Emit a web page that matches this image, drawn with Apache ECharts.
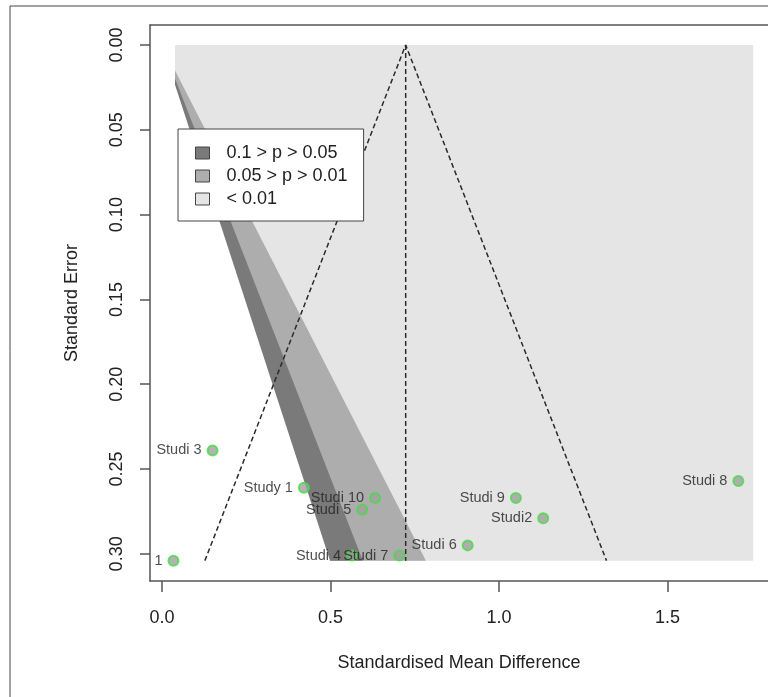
<!DOCTYPE html>
<html>
<head>
<meta charset="utf-8">
<script src="https://cdn.jsdelivr.net/npm/echarts@6/dist/echarts.min.js"></script>
<style>
  html, body { margin: 0; padding: 0; background: #fff; }
  #chart { width: 768px; height: 697px; }
</style>
</head>
<body>
<div id="chart"></div>
<script>
// studies: effect size (SMD), standard error, label
var studyNames = ['1', 'Studi 3', 'Study 1', 'Studi 10', 'Studi 5', 'Studi 4', 'Studi 7', 'Studi 6', 'Studi 9', 'Studi2', 'Studi 8'];
var smd = [0.034, 0.150, 0.421, 0.632, 0.594, 0.564, 0.704, 0.907, 1.050, 1.131, 1.710];
var stdErr = [0.304, 0.239, 0.261, 0.267, 0.274, 0.301, 0.301, 0.295, 0.267, 0.279, 0.257];

var estimate = 0.723;      // pooled estimate (funnel centre)
var seMax = 0.304;         // bottom of the funnel / shaded area
var funnelZ = 1.96;
var shadeXRange = [0.0386, 1.754];   // horizontal extent of the shaded area

var contourNames = ['0.1 > p > 0.05', '0.05 > p > 0.01', '< 0.01'];
var contourZ = [1.645, 1.96, 2.576];
var contourColors = ['#7a7a7a', '#adadad', '#e5e5e5'];

var xTicks = [0, 0.5, 1.0, 1.5];
var yTicks = [0, 0.05, 0.10, 0.15, 0.20, 0.25, 0.30];

var chart = echarts.init(document.getElementById('chart'));
var font = "'Liberation Sans', Arial, Helvetica, sans-serif";
var xMin = -0.0356, xMax = 1.798;

// polygon of the region |x| < z*se, cut at the left of the shaded area
function wedge(z, pad) {
    var xl = shadeXRange[0];
    pad = pad || 0;
    return [[xl - pad, xl / z], [xl, xl / z], [z * seMax, seMax + pad / 10], [xl - pad, seMax + pad / 10]];
}

function polySeries(name, verts, color) {
    return {
        name: name,
        type: 'custom',
        silent: true,
        itemStyle: { color: color },
        data: verts,
        renderItem: function (params, api) {
            if (params.dataIndex > 0) return;
            var pts = verts.map(function (p) { return api.coord(p); });
            return { type: 'polygon', shape: { points: pts }, style: { fill: color } };
        }
    };
}

var rectVerts = [[shadeXRange[0], 0], [shadeXRange[1], 0], [shadeXRange[1], seMax], [shadeXRange[0], seMax]];

var scatterData = smd.map(function (v, i) { return [v, stdErr[i], studyNames[i]]; });

var boxLine = { show: true, onZero: false, lineStyle: { color: '#555', width: 1.5 } };

var option = {
    animation: false,
    textStyle: { fontFamily: font },
    grid: { left: 150, top: 25, right: 0, bottom: 116 },
    legend: {
        orient: 'vertical',
        left: 178, top: 129,
        data: contourNames,
        icon: 'rect',
        itemWidth: 14, itemHeight: 12,
        itemGap: 5,
        selectedMode: false,
        backgroundColor: '#fff',
        borderColor: '#444', borderWidth: 1,
        borderRadius: 0,
        padding: [15, 16, 13, 17],
        itemStyle: { borderColor: '#444', borderWidth: 1 },
        textStyle: { fontSize: 18, color: '#222', fontFamily: font, padding: [0, 0, 0, 12], lineHeight: 18 }
    },
    xAxis: [{
        type: 'value',
        min: xMin, max: xMax,
        position: 'bottom',
        name: 'Standardised Mean Difference',
        nameLocation: 'middle',
        nameGap: 73,
        nameTextStyle: { fontSize: 18, color: '#222' },
        axisLine: boxLine,
        splitLine: { show: false },
        axisTick: { customValues: xTicks, length: 11, lineStyle: { color: '#555', width: 1.5 } },
        axisLabel: {
            customValues: xTicks, margin: 28, fontSize: 18, color: '#222',
            formatter: function (v) { return v.toFixed(1); }
        }
    }, {
        // top edge of the box
        type: 'value',
        min: xMin, max: xMax,
        position: 'top',
        axisLine: boxLine,
        axisTick: { show: false },
        axisLabel: { show: false },
        splitLine: { show: false }
    }],
    yAxis: {
        type: 'value',
        inverse: true,
        min: -0.0118, max: 0.316,
        name: 'Standard Error',
        nameLocation: 'middle',
        nameRotate: 90,
        nameGap: 69,
        nameTextStyle: { fontSize: 18, color: '#222' },
        axisLine: boxLine,
        splitLine: { show: false },
        axisTick: { customValues: yTicks, length: 10, lineStyle: { color: '#555', width: 1.5 } },
        axisLabel: {
            customValues: yTicks, rotate: 90, margin: 24, fontSize: 18, color: '#222',
            formatter: function (v) { return v.toFixed(2); }
        }
    },
    series: [
        polySeries(contourNames[2], rectVerts, contourColors[2]),
        polySeries(contourNames[1], wedge(contourZ[2]), contourColors[1]),
        polySeries(contourNames[0], wedge(contourZ[1]), contourColors[0]),
        polySeries('p > 0.1', wedge(contourZ[0], 0.01), '#ffffff'),
        {
            name: 'funnel',
            type: 'line',
            silent: true,
            symbol: 'none',
            lineStyle: { color: '#2a2a2a', width: 1.5, type: [5, 3] },
            data: [[estimate - funnelZ * seMax, seMax], [estimate, 0], [estimate + funnelZ * seMax, seMax]]
        },
        {
            name: 'estimate',
            type: 'line',
            silent: true,
            symbol: 'none',
            lineStyle: { color: '#2a2a2a', width: 1.5, type: [5, 3] },
            data: [[estimate, 0], [estimate, seMax]]
        },
        {
            name: 'studies',
            type: 'scatter',
            symbolSize: 10,
            itemStyle: { color: '#a0a0a0', borderColor: '#44dd44', borderWidth: 2 },
            label: {
                show: true,
                position: 'left',
                distance: 5,
                fontSize: 14.5,
                color: '#222',
                formatter: function (p) { return p.data[2]; }
            },
            data: scatterData
        }
    ],
    graphic: [{
        type: 'polyline',
        silent: true,
        shape: { points: [[10, 697], [10, 6], [768, 6]] },
        style: { stroke: '#444', lineWidth: 1, fill: null }
    }]
};

chart.setOption(option);
</script>
</body>
</html>
